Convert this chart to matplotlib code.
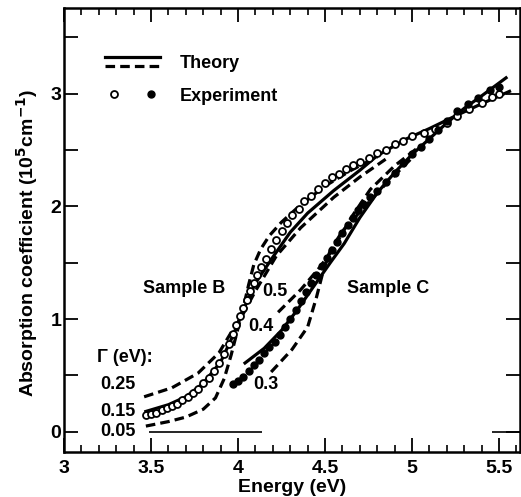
import matplotlib
matplotlib.use("Agg")
import matplotlib.pyplot as plt
from matplotlib.lines import Line2D
from matplotlib.legend_handler import HandlerBase, HandlerTuple
from matplotlib.ticker import MultipleLocator

plt.rcParams['font.family'] = ['Liberation Sans', 'DejaVu Sans']
plt.rcParams['font.weight'] = 'bold'
plt.rcParams['mathtext.default'] = 'bf'

# ---- data ----
# Sample B, experiment (open circles)
b_exp_x = [3.47, 3.50, 3.53, 3.56, 3.59, 3.62, 3.65, 3.68, 3.71, 3.74, 3.77, 3.80,
           3.83, 3.86, 3.89, 3.92, 3.95, 3.97, 3.99, 4.01, 4.03, 4.05, 4.07, 4.09,
           4.11, 4.13, 4.16, 4.19, 4.22, 4.25, 4.28, 4.31, 4.35, 4.38, 4.42, 4.46,
           4.50, 4.54, 4.58, 4.62, 4.66, 4.70, 4.75, 4.80, 4.85, 4.90, 4.95, 5.00,
           5.07, 5.13, 5.20, 5.26, 5.33, 5.40, 5.46, 5.50]
b_exp_y = [0.15, 0.16, 0.17, 0.19, 0.21, 0.23, 0.25, 0.28, 0.31, 0.34, 0.38, 0.43,
           0.48, 0.54, 0.61, 0.69, 0.78, 0.87, 0.95, 1.03, 1.10, 1.17, 1.25, 1.32,
           1.39, 1.46, 1.53, 1.62, 1.70, 1.78, 1.85, 1.92, 1.98, 2.05, 2.09, 2.15,
           2.21, 2.26, 2.29, 2.33, 2.37, 2.39, 2.43, 2.47, 2.50, 2.55, 2.58, 2.62,
           2.65, 2.69, 2.74, 2.80, 2.86, 2.92, 2.97, 3.00]

# Sample C, experiment (filled circles)
c_exp_x = [3.97, 4.00, 4.03, 4.06, 4.09, 4.12, 4.15, 4.18, 4.21, 4.24, 4.27, 4.30,
           4.33, 4.36, 4.39, 4.42, 4.45, 4.48, 4.51, 4.54, 4.57, 4.60, 4.63, 4.66,
           4.69, 4.72, 4.76, 4.80, 4.85, 4.90, 4.95, 5.00, 5.05, 5.10, 5.15, 5.20,
           5.26, 5.32, 5.38, 5.45, 5.50]
c_exp_y = [0.42, 0.45, 0.49, 0.54, 0.59, 0.64, 0.70, 0.75, 0.80, 0.86, 0.93, 1.00,
           1.08, 1.16, 1.24, 1.32, 1.39, 1.47, 1.54, 1.61, 1.68, 1.76, 1.83, 1.90,
           1.97, 2.02, 2.08, 2.14, 2.22, 2.30, 2.38, 2.46, 2.53, 2.60, 2.68, 2.76,
           2.85, 2.91, 2.96, 3.03, 3.06]

# Sample B, theory (Gamma = 0.15 solid, 0.05 and 0.25 dashed)
b_015_x = [3.47, 3.6, 3.7, 3.8, 3.9, 3.97, 4.03, 4.1, 4.2, 4.3, 4.4, 4.55, 4.7,
           4.8, 4.97, 5.1, 5.26, 5.4, 5.56]
b_015_y = [0.18, 0.24, 0.31, 0.43, 0.62, 0.85, 1.08, 1.32, 1.55, 1.77, 1.94, 2.14,
           2.32, 2.45, 2.60, 2.69, 2.81, 2.91, 3.02]
b_005_x = [3.47, 3.6, 3.7, 3.8, 3.87, 3.92, 3.96, 4.0, 4.03, 4.06, 4.09, 4.13,
           4.18, 4.25, 4.35, 4.5, 4.65, 4.8]
b_005_y = [0.05, 0.09, 0.13, 0.20, 0.30, 0.47, 0.68, 0.92, 1.10, 1.30, 1.48, 1.62,
           1.74, 1.86, 2.00, 2.18, 2.32, 2.44]
b_025_x = [3.46, 3.62, 3.77, 3.89, 3.96, 4.02, 4.1, 4.22, 4.36, 4.55, 4.7, 4.85]
b_025_y = [0.31, 0.39, 0.52, 0.70, 0.88, 1.02, 1.25, 1.56, 1.81, 2.08, 2.26, 2.42]

# Sample C, theory (Gamma = 0.4 solid, 0.5 and 0.3 dashed)
c_04_x = [4.04, 4.15, 4.25, 4.34, 4.43, 4.53, 4.61, 4.7, 4.8, 4.9, 5.0, 5.1, 5.2,
          5.3, 5.4, 5.54]
c_04_y = [0.61, 0.74, 0.90, 1.08, 1.28, 1.50, 1.67, 1.90, 2.12, 2.30, 2.46, 2.60,
          2.74, 2.87, 2.98, 3.14]
c_05_x = [4.23, 4.36, 4.47, 4.55, 4.65, 4.76, 4.9, 5.05]
c_05_y = [1.06, 1.26, 1.46, 1.63, 1.90, 2.15, 2.36, 2.54]
c_03_x = [4.19, 4.31, 4.40, 4.45, 4.49, 4.53, 4.6, 4.7, 4.85, 5.0]
c_03_y = [0.53, 0.73, 0.93, 1.19, 1.43, 1.61, 1.78, 1.95, 2.20, 2.43]

# baseline pieces drawn at zero
zero_start = [3.49, 5.46]
zero_end = [4.14, 5.62]

fig = plt.figure(figsize=(5.21, 4.97), dpi=100)
ax = fig.add_axes([0.123, 0.0905, 0.875, 0.8935])

lw = 2.3
dash = (0, (3.0, 1.6))
solid_b, = ax.plot(b_015_x, b_015_y, color='black', lw=lw)
ax.plot(b_005_x, b_005_y, color='black', lw=lw, linestyle=dash)
dashed_b, = ax.plot(b_025_x, b_025_y, color='black', lw=lw, linestyle=dash)
ax.plot(c_04_x, c_04_y, color='black', lw=lw)
ax.plot(c_05_x, c_05_y, color='black', lw=lw, linestyle=dash)
ax.plot(c_03_x, c_03_y, color='black', lw=lw, linestyle=dash)

open_pts, = ax.plot(b_exp_x, b_exp_y, 'o', ms=5, mfc='white', mec='black', mew=1.3,
                    linestyle='none')
fill_pts, = ax.plot(c_exp_x, c_exp_y, 'o', ms=5, color='black', linestyle='none')

ax.hlines([0, 0], zero_start, zero_end, color='black', lw=1.2)

ax.set_xlim(3, 5.62)
ax.set_ylim(-0.18, 3.76)
ax.xaxis.set_major_locator(MultipleLocator(0.5))
ax.xaxis.set_minor_locator(MultipleLocator(0.1))
ax.yaxis.set_major_locator(MultipleLocator(1))
ax.yaxis.set_minor_locator(MultipleLocator(0.5))
ax.set_xticks([3, 3.5, 4, 4.5, 5, 5.5])
ax.set_xticklabels(['3', '3.5', '4', '4.5', '5', '5.5'])
ax.set_yticks([0, 1, 2, 3])
ax.set_yticklabels(['0', '1', '2', '3'])
ax.tick_params(which='both', direction='in', top=True, right=True, labelsize=14)
ax.tick_params(which='major', length=10, width=1.3)
ax.tick_params(axis='x', which='minor', length=5, width=1.2)
ax.tick_params(axis='y', which='minor', length=10, width=1.3)
ax.tick_params(axis='x', pad=6)
ax.tick_params(axis='y', pad=2)
for s in ax.spines.values():
    s.set_linewidth(1.8)

ax.set_xlabel('Energy (eV)', fontsize=14, fontweight='bold', labelpad=1)
ax.set_ylabel('Absorption coefficient (10$^5$cm$^{-1}$)',
              fontsize=14, fontweight='bold')
ax.yaxis.set_label_coords(-0.052, 0.47)


class StackedLines(HandlerBase):
    # solid line drawn over a dashed one, as in the original key
    def create_artists(self, legend, orig_handle, xdescent, ydescent, width,
                       height, fontsize, trans):
        top = Line2D([-xdescent, width - xdescent], [height * 0.9] * 2,
                     color='black', lw=lw, transform=trans)
        bottom = Line2D([-xdescent, width - xdescent], [height * 0.2] * 2,
                        color='black', lw=lw, linestyle=dash, transform=trans)
        return [top, bottom]


theory_key = (solid_b, dashed_b)
exp_key = (open_pts, fill_pts)
ax.legend([theory_key, exp_key], ['Theory', 'Experiment'],
          handler_map={theory_key: StackedLines(),
                       exp_key: HandlerTuple(ndivide=None, pad=1.2)},
          loc='upper left', bbox_to_anchor=(0.055, 0.93), frameon=False,
          handlelength=3.0, handletextpad=1.1, labelspacing=0.85,
          prop={'size': 13, 'weight': 'bold'})

fs = 13
ax.text(3.69, 1.27, 'Sample B', ha='center', va='center', fontsize=fs, fontweight='bold')
ax.text(4.86, 1.27, 'Sample C', ha='center', va='center', fontsize=fs, fontweight='bold')
ax.text(4.21, 1.24, '0.5', ha='center', va='center', fontsize=fs, fontweight='bold')
ax.text(4.13, 0.93, '0.4', ha='center', va='center', fontsize=fs, fontweight='bold')
ax.text(4.16, 0.42, '0.3', ha='center', va='center', fontsize=fs, fontweight='bold')
ax.text(3.19, 0.66, 'Γ (eV):', ha='left', va='center', fontsize=fs, fontweight='bold')
ax.text(3.31, 0.42, '0.25', ha='center', va='center', fontsize=fs, fontweight='bold')
ax.text(3.31, 0.18, '0.15', ha='center', va='center', fontsize=fs, fontweight='bold')
ax.text(3.31, 0.0, '0.05', ha='center', va='center', fontsize=fs, fontweight='bold')

fig.savefig('out.png', dpi=100)
